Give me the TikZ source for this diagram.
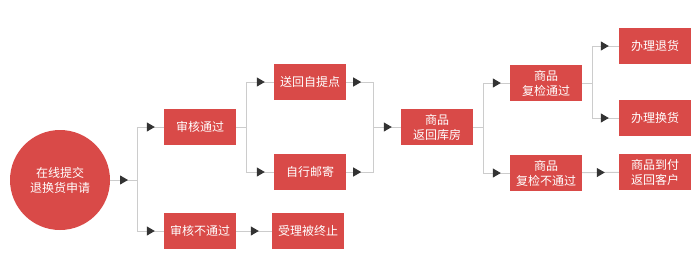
\documentclass[tikz,border=0pt]{standalone}
\usepackage{fontspec}
\setmainfont{Noto Sans CJK SC}
\usepackage{xcolor}
\usetikzlibrary{arrows.meta}
\usetikzlibrary{decorations.markings, math}
\definecolor{boxred}{RGB}{217,74,72}
\definecolor{linegray}{RGB}{204,204,204}
\definecolor{tipgray}{RGB}{51,51,51}

\begin{document}
\begin{tikzpicture}[x=1pt,y=-1pt,
  stage/.style={fill=boxred,text=white,minimum width=72pt,minimum height=36pt,
    inner sep=0pt,align=center,font=\fontsize{12}{15}\selectfont},
  link/.style={draw=linegray,line width=1pt},
  arrowmark/.style={postaction={decorate,decoration={markings,
    mark=at position #1 with {\arrow{Triangle[width=9pt,length=8pt,color=tipgray]}}}}}]
\useasboundingbox (0,0) rectangle (700,276);

\node[stage,circle,minimum size=100pt] (start) at (60,180) {在线提交\\退换货申请};
\node[stage] (pass) at (200,127) {审核通过};
\node[stage] (fail) at (200,231) {审核不通过};
\node[stage] (pickup) at (310,82) {送回自提点};
\node[stage] (mail) at (310,172) {自行邮寄};
\node[stage] (stop) at (308,231) {受理被终止};
\node[stage] (store) at (437,127) {商品\\返回库房};
\node[stage] (ok) at (546,83) {商品\\复检通过};
\node[stage] (notok) at (546,173) {商品\\复检不通过};
\node[stage] (refund) at (655,46) {办理退货};
\node[stage] (swap) at (655,118) {办理换货};
\node[stage] (back) at (655,172) {商品到付\\返回客户};

\coordinate (j1) at (137,180);
\coordinate (j2) at (246,127);
\coordinate (j3) at (373,127);
\coordinate (j4) at (483,127);
\coordinate (j5) at (592,83);

\draw[link,arrowmark=-9pt] (start.east) -- (j1);
\draw[link,arrowmark=-9pt] (j1) |- (pass);
\draw[link,arrowmark=-9pt] (j1) |- (fail);
\draw[link,arrowmark=-13pt] (fail) -- (stop);
\draw[link] (pass) -- (j2);
\draw[link,arrowmark=-9pt] (j2) |- (pickup);
\draw[link,arrowmark=-9pt] (j2) |- (mail);
\draw[link,arrowmark=15pt] (pickup) -| (j3);
\draw[link,arrowmark=15pt] (mail) -| (j3);
\draw[link,arrowmark=-9pt] (j3) -- (store);
\draw[link] (store) -- (j4);
\draw[link,arrowmark=-9pt] (j4) |- (ok);
\draw[link,arrowmark=-9pt] (j4) |- (notok);
\draw[link] (ok) -- (j5);
\draw[link,arrowmark=-10pt] (j5) |- (refund);
\draw[link,arrowmark=-10pt] (j5) |- (swap);
\draw[link,arrowmark=-14pt] (notok) -- (back);
\end{tikzpicture}
\end{document}
